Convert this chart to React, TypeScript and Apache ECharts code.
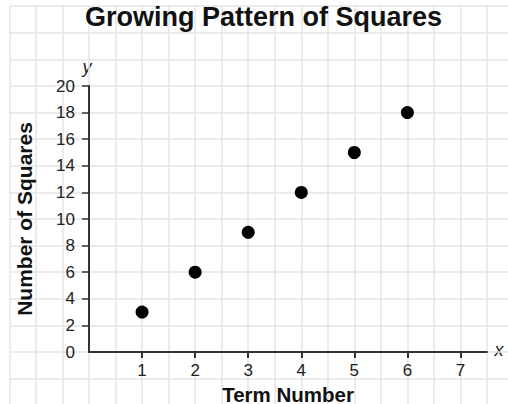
import React, { useEffect, useRef } from "react";
import * as echarts from "echarts";

const chartTitle = "Growing Pattern of Squares";
const xAxisTitle = "Term Number";
const yAxisTitle = "Number of Squares";
const termNumbers = [1, 2, 3, 4, 5, 6];
const squareCounts = [3, 6, 9, 12, 15, 18];
const xTickValues = [1, 2, 3, 4, 5, 6, 7];
const yLabelValues = [0, 2, 4, 6, 8, 10, 12, 14, 16, 18, 20];
const yTickValues = [2, 4, 6, 8, 10, 12, 14, 16, 18, 20];

const FONT = "'Liberation Sans', Arial, Helvetica, sans-serif";
const GRID_COLOR = "#e4e4e4";
const AXIS_COLOR = "#333333";

export default function App() {
  const ref = useRef<HTMLDivElement>(null);

  useEffect(() => {
    document.body.style.margin = "0";
    if (!ref.current) return;
    const chart = echarts.init(ref.current, undefined, { renderer: "svg" });

    // plot area: x 0..7.5 over 398px, y 0..20 over 266px
    const left = 89;
    const top = 86;
    const width = 398;
    const height = 266;
    const ux = width / 7.5;
    const uy = height / 20;

    chart.setOption({
      animation: false,
      backgroundColor: "#ffffff",
      textStyle: { fontFamily: FONT },
      title: {
        text: chartTitle,
        left: 85,
        top: 3,
        padding: 0,
        textStyle: {
          fontFamily: FONT,
          fontSize: 27,
          fontWeight: "bold",
          color: "#111111",
        },
      },
      grid: [
        {
          left: left - 1.5 * ux,
          top: top - 6 * uy,
          width: 9.5 * ux,
          height: 30 * uy,
          containLabel: false,
          outerBoundsMode: "none",
        },
        {
          left,
          top,
          width,
          height,
          containLabel: false,
          outerBoundsMode: "none",
        },
      ],
      xAxis: [
        {
          gridIndex: 0,
          type: "value",
          min: -1.5,
          max: 8,
          interval: 0.5,
          axisLine: { show: false },
          axisTick: { show: false },
          axisLabel: { show: false },
          splitLine: { show: true, lineStyle: { color: GRID_COLOR, width: 1.5 } },
        },
        {
          gridIndex: 1,
          type: "value",
          min: 0,
          max: 7.5,
          interval: 1,
          name: xAxisTitle,
          nameLocation: "middle",
          nameGap: 26,
          nameTextStyle: {
            fontFamily: FONT,
            fontSize: 20.5,
            lineHeight: 20,
            fontWeight: "bold",
            color: "#111111",
          },
          axisLine: { show: true, onZero: false, lineStyle: { color: AXIS_COLOR, width: 2 } },
          axisTick: {
            show: true,
            length: 6,
            customValues: xTickValues,
            lineStyle: { color: AXIS_COLOR, width: 2 },
          },
          axisLabel: {
            show: true,
            customValues: xTickValues,
            margin: 10,
            fontFamily: FONT,
            fontSize: 17,
            color: "#222222",
          },
          splitLine: { show: false },
        },
      ],
      yAxis: [
        {
          gridIndex: 0,
          type: "value",
          min: -4,
          max: 26,
          interval: 2,
          axisLine: { show: false },
          axisTick: { show: false },
          axisLabel: { show: false },
          splitLine: { show: true, lineStyle: { color: GRID_COLOR, width: 1.5 } },
        },
        {
          gridIndex: 1,
          type: "value",
          min: 0,
          max: 20,
          interval: 2,
          name: yAxisTitle,
          nameLocation: "middle",
          nameGap: 54,
          nameRotate: 90,
          nameTextStyle: {
            fontFamily: FONT,
            fontSize: 21,
            fontWeight: "bold",
            color: "#111111",
          },
          axisLine: { show: true, onZero: false, lineStyle: { color: AXIS_COLOR, width: 2 } },
          axisTick: {
            show: true,
            length: 7,
            customValues: yTickValues,
            lineStyle: { color: AXIS_COLOR, width: 1.5 },
          },
          axisLabel: {
            show: true,
            customValues: yLabelValues,
            margin: 14,
            fontFamily: FONT,
            fontSize: 17,
            color: "#222222",
          },
          splitLine: { show: false },
        },
      ],
      graphic: [
        {
          type: "text",
          x: left - 2,
          y: top - 19,
          style: {
            text: "y",
            fontFamily: FONT,
            fontSize: 18,
            fontStyle: "italic",
            fill: "#222222",
            textAlign: "center",
            textVerticalAlign: "middle",
          },
        },
        {
          type: "text",
          x: left + width + 12,
          y: top + height - 2,
          style: {
            text: "x",
            fontFamily: FONT,
            fontSize: 18,
            fontStyle: "italic",
            fill: "#222222",
            textAlign: "center",
            textVerticalAlign: "middle",
          },
        },
      ],
      series: [
        {
          type: "scatter",
          xAxisIndex: 1,
          yAxisIndex: 1,
          symbol: "circle",
          symbolSize: 13,
          itemStyle: { color: "#000000", opacity: 1 },
          data: termNumbers.map((t, i) => [t, squareCounts[i]]),
          z: 5,
        },
      ],
    });

    return () => {
      chart.dispose();
    };
  }, []);

  return (
    <div
      ref={ref}
      style={{ position: "absolute", left: 0, top: 0, width: 508, height: 404 }}
    />
  );
}
